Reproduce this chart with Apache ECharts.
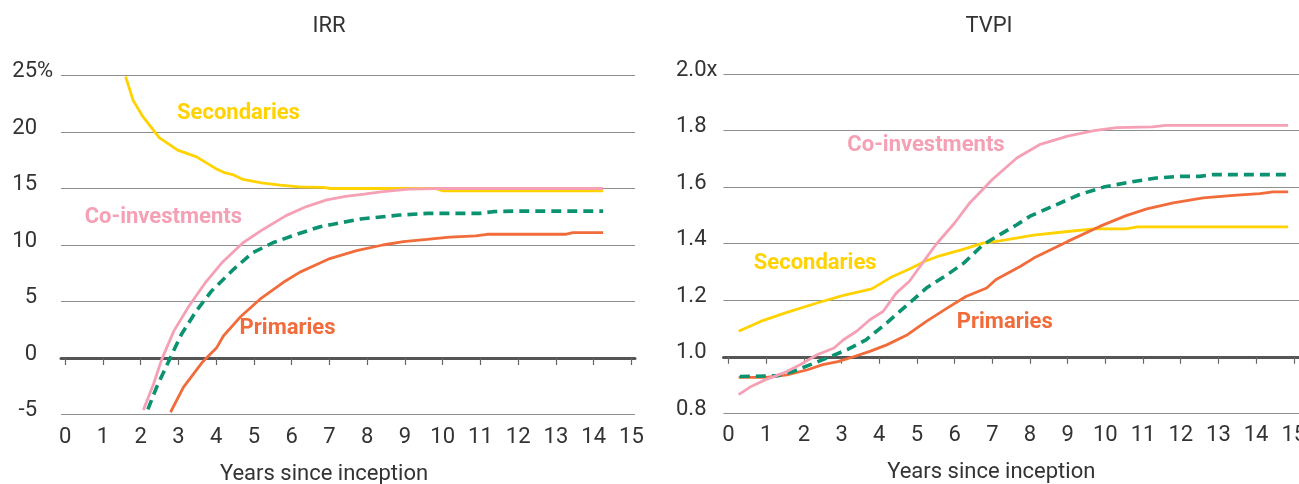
<!DOCTYPE html>
<html><head><meta charset="utf-8">
<script src="https://cdn.jsdelivr.net/npm/echarts@6/dist/echarts.min.js"></script>
<style>html,body{margin:0;padding:0;background:#fff}#c{width:1299px;height:484px}</style>
</head><body><div id="c"></div>
<script>
// ---------- data ----------
const xTicks = [0,1,2,3,4,5,6,7,8,9,10,11,12,13,14,15];

// IRR (%)
const irrSecYears   = [1.60,1.80,2.05,2.49,2.98,3.48,3.97,4.22,4.46,4.71,5.20,5.70,6.19,6.83,7.03,7.92,8.91,9.80,9.99,10.88,11.87,12.86,14.25];
const irrSecValues  = [24.9,22.8,21.4,19.5,18.4,17.8,16.8,16.4,16.2,15.8,15.5,15.3,15.15,15.1,15.0,15.0,15.0,15.0,14.8,14.8,14.8,14.8,14.8];
const irrCoYears    = [2.07,2.34,2.56,2.88,3.28,3.72,4.17,4.71,5.25,5.85,6.39,6.93,7.43,7.92,8.36,9.10,9.89,10.88,11.87,12.86,14.25];
const irrCoValues   = [-4.6,-2.3,-0.1,2.4,4.6,6.7,8.5,10.2,11.4,12.6,13.4,14.0,14.3,14.5,14.7,14.95,15.0,15.0,15.0,15.0,15.0];
const irrAllYears   = [2.19,2.42,2.74,3.08,3.48,3.87,4.46,4.96,5.50,6.14,6.73,7.03,7.82,8.86,9.60,10.98,11.33,11.87,12.86,14.25];
const irrAllValues  = [-4.55,-2.6,-0.3,2.1,4.2,5.9,7.85,9.3,10.2,10.95,11.6,11.8,12.3,12.65,12.8,12.8,12.95,13.0,13.0,13.0];
const irrPriYears   = [2.79,3.13,3.65,4.01,4.19,4.63,5.16,5.78,6.22,6.75,7.01,7.72,8.41,8.96,9.58,10.19,10.88,11.18,11.87,12.86,13.25,13.45,14.25];
const irrPriValues  = [-4.8,-2.6,-0.3,0.9,1.95,3.6,5.2,6.7,7.6,8.4,8.8,9.5,10.0,10.3,10.5,10.7,10.8,10.95,10.95,10.95,10.95,11.1,11.1];
const irrTicks = [-5, 25, 5];
const irrBase = 0;

// TVPI (x)
const tvpiSecYears  = [0.27,0.85,1.55,2.35,3.05,3.80,4.30,4.80,5.20,5.60,6.20,6.75,7.20,8.10,9.00,9.70,10.55,10.85,12.0,13.0,14.0,14.85];
const tvpiSecValues = [1.09,1.125,1.157,1.19,1.217,1.24,1.28,1.31,1.337,1.357,1.379,1.402,1.41,1.43,1.443,1.452,1.452,1.459,1.459,1.459,1.459,1.459];
const tvpiCoYears   = [0.27,0.60,1.00,1.45,1.90,2.35,2.80,3.05,3.40,3.75,4.10,4.45,4.80,5.15,5.50,6.00,6.40,7.00,7.65,8.25,9.00,9.70,10.30,11.25,11.60,12.5,13.5,14.85];
const tvpiCoValues  = [0.866,0.895,0.92,0.942,0.972,1.007,1.031,1.06,1.09,1.131,1.16,1.225,1.267,1.332,1.396,1.473,1.544,1.627,1.703,1.75,1.78,1.80,1.81,1.813,1.818,1.818,1.818,1.818];
const tvpiAllYears  = [0.30,1.30,1.72,2.17,2.60,3.15,3.65,4.20,4.75,5.25,5.80,6.25,6.75,7.20,7.65,8.00,8.60,9.30,9.95,10.75,11.35,12.0,12.5,12.85,13.5,14.85];
const tvpiAllValues = [0.93,0.933,0.948,0.972,0.995,1.025,1.06,1.12,1.184,1.243,1.29,1.332,1.396,1.432,1.467,1.497,1.532,1.573,1.60,1.62,1.632,1.638,1.638,1.644,1.644,1.644];
const tvpiPriYears  = [0.27,1.00,1.55,2.10,2.50,2.90,3.30,3.75,4.20,4.75,5.25,5.80,6.30,6.85,7.10,7.75,8.10,9.00,9.85,10.55,11.10,11.80,12.60,13.40,14.10,14.45,14.85];
const tvpiPriValues = [0.927,0.927,0.936,0.954,0.972,0.983,0.999,1.019,1.042,1.078,1.125,1.172,1.213,1.243,1.273,1.32,1.349,1.408,1.461,1.499,1.523,1.544,1.562,1.571,1.577,1.583,1.583];
const tvpiTicks = [0.8, 2.0, 0.2];
const tvpiBase = 1.0;

// label anchors (data coords)
const irrLabels  = [['Secondaries',4.59,21.6],['Co-investments',2.60,12.4],['Primaries',5.89,2.6]];
const tvpiLabels = [['Co-investments',5.24,1.747],['Secondaries',2.30,1.329],['Primaries',7.33,1.122]];

// ---------- style ----------
const FONT = 'Roboto';
const FS = 22;
const C = { sec:'#FFD200', co:'#F5A0B5', pri:'#F26B3A', all:'#0B9270' };
const TXT = '#333';

const G = [
  {left:61, top:75.5, width:574, height:339},
  {left:723.5, top:74, width:575.5, height:339.3}
];

function zip(a,b){ return a.map((x,i)=>[x,b[i]]); }

function line(name, xi, years, vals, color, dashed, labels){
  const s = {
    name, type:'line', xAxisIndex:xi, yAxisIndex:xi, data: zip(years, vals),
    showSymbol:false, symbol:'none', smooth:false, animation:false,
    lineStyle:{color, width: dashed?3.6:2.8, type: dashed?[10,6]:'solid', cap:'butt'},
    itemStyle:{color}, z: 3
  };
  if (labels){
    const l = labels.find(d=>d[0]===name);
    if (l){
      s.markPoint = {
        symbol:'circle', symbolSize:0, animation:false, silent:true,
        data:[{coord:[l[1], l[2]], value:name}],
        label:{show:true, position:'inside', formatter:name, color, fontFamily:FONT, fontWeight:'bold', fontSize:FS}
      };
    }
  }
  return s;
}

function yLabelRich(numW, unitW){
  return {
    n:{width:numW, align:'right', fontFamily:FONT, fontSize:FS, color:TXT, lineHeight:8},
    u:{width:unitW, align:'right', fontFamily:FONT, fontSize:FS, color:TXT, lineHeight:8}
  };
}

function baseOffset(g, ticks, base){
  return -g.height * (base - ticks[0]) / (ticks[1] - ticks[0]);
}

const chart = echarts.init(document.getElementById('c'), null, {renderer:'canvas'});

const xCommon = (gi, min, max, offset, nameShift) => ({
  gridIndex: gi, type:'value', min, max,
  position:'bottom', offset: offset,
  axisLine:{show:true, onZero:false, lineStyle:{color:'#555', width:3}},
  axisTick:{show:true, customValues:xTicks, length:7, lineStyle:{color:'#666', width:1.2}},
  axisLabel:{customValues:xTicks, margin:68, fontFamily:FONT, fontSize:FS, color:TXT},
  splitLine:{show:false},
  name:'Years since inception', nameLocation:'middle', nameGap:105,
  nameTextStyle:{fontFamily:FONT, fontSize:FS, color:TXT, padding:[0,nameShift,0,0]}
});

const option = {
  backgroundColor:'#fff',
  animation:false,
  title:[
    {text:'IRR', left:324, top:10, textAlign:'center', textStyle:{fontFamily:FONT, fontWeight:'normal', fontSize:FS, color:TXT}},
    {text:'TVPI', left:984, top:10, textAlign:'center', textStyle:{fontFamily:FONT, fontWeight:'normal', fontSize:FS, color:TXT}}
  ],
  grid: G.map(g=>Object.assign({containLabel:false, outerBoundsMode:'none'}, g)),
  xAxis:[
    xCommon(0, -0.111, 15.094, baseOffset(G[0], irrTicks, irrBase), 48),
    xCommon(1, -0.133, 15.138, baseOffset(G[1], tvpiTicks, tvpiBase), 40)
  ],
  yAxis:[
    {gridIndex:0, type:'value', min:irrTicks[0], max:irrTicks[1], interval:irrTicks[2],
     axisLine:{show:false}, axisTick:{show:false},
     splitLine:{show:true, lineStyle:{color:'#8e8e8e', width:1.2}},
     axisLabel:{margin:8, verticalAlign:'bottom', align:'right',
       formatter:v => '{n|'+v+'}{u|'+(v===25?'%':' ')+'}', rich:yLabelRich(30,16)}},
    {gridIndex:1, type:'value', min:tvpiTicks[0], max:tvpiTicks[1], interval:tvpiTicks[2],
     axisLine:{show:false}, axisTick:{show:false},
     splitLine:{show:true, lineStyle:{color:'#8e8e8e', width:1.2}},
     axisLabel:{margin:6, verticalAlign:'bottom', align:'right',
       formatter:v => '{n|'+v.toFixed(1)+'}{u|'+(Math.abs(v-2)<1e-9?'x':' ')+'}', rich:yLabelRich(34,11)}}
  ],
  series:[
    line('Secondaries',0,irrSecYears,irrSecValues,C.sec,false,irrLabels),
    line('Primaries',0,irrPriYears,irrPriValues,C.pri,false,irrLabels),
    line('All private markets',0,irrAllYears,irrAllValues,C.all,true,null),
    line('Co-investments',0,irrCoYears,irrCoValues,C.co,false,irrLabels),
    line('Secondaries',1,tvpiSecYears,tvpiSecValues,C.sec,false,tvpiLabels),
    line('Primaries',1,tvpiPriYears,tvpiPriValues,C.pri,false,tvpiLabels),
    line('All private markets',1,tvpiAllYears,tvpiAllValues,C.all,true,null),
    line('Co-investments',1,tvpiCoYears,tvpiCoValues,C.co,false,tvpiLabels)
  ]
};
chart.setOption(option);
</script>
</body></html>
